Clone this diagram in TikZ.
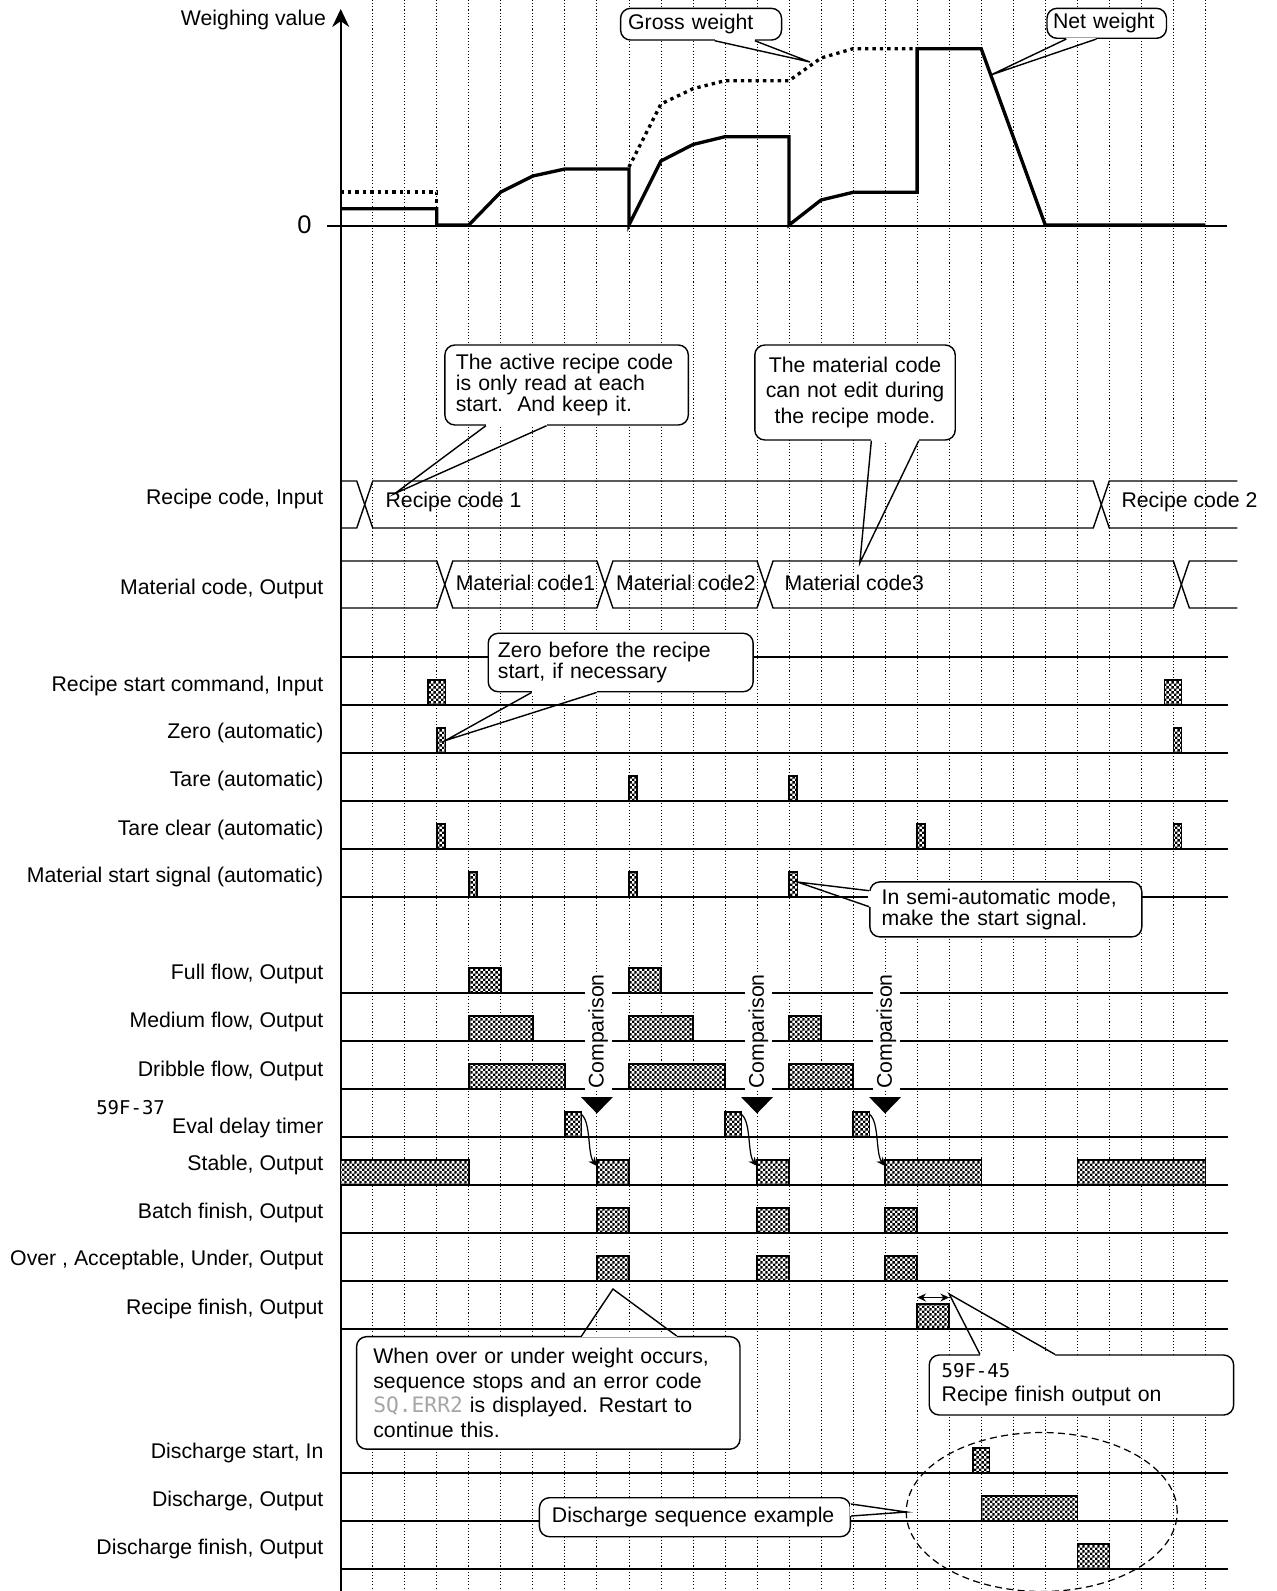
\documentclass[tikz,border=0pt]{standalone}
\usepackage{fontspec}
\setmainfont{Liberation Sans}
\newfontfamily\segfont{DejaVu Sans Mono}
\usetikzlibrary{arrows.meta,calc,fit,patterns,shapes.geometric}

% fine checker fill for the pulses
\pgfdeclarepatternformonly{fineck}{\pgfpointorigin}{\pgfqpoint{3pt}{3pt}}{\pgfqpoint{3pt}{3pt}}{%
  \pgfpathrectangle{\pgfpointorigin}{\pgfqpoint{1.55pt}{1.55pt}}%
  \pgfpathrectangle{\pgfqpoint{1.5pt}{1.5pt}}{\pgfqpoint{1.55pt}{1.55pt}}%
  \pgfusepath{fill}}

% one pulse: name, from, to, base line
\newcommand{\sigpulse}[4]{%
  \path (#2,#4) coordinate (#1-a) (#3,#4-25) coordinate (#1-b);
  \node[pulsebox, fit=(#1-a)(#1-b)] (#1) {};}
% tail of a callout: base point, base point, tip
\newcommand{\calltail}[3]{%
  \draw[white, line width=1.6pt] #1 -- #2;
  \draw[callline] #1 -- #3 -- #2;}

\begin{document}
\begin{tikzpicture}[
        x = 0.6406cm, y = -0.02cm,
        font = \fontsize{12.1}{14}\selectfont,
        line width = 0.8pt,
        > = {Stealth[length=5pt, width=4.5pt]},
        grid/.style = {line width=0.5pt, dash pattern=on 0.6pt off 1.2pt},
        base/.style = {line width=0.8pt},
        pulsebox/.style = {draw, line width=0.8pt, inner sep=0pt, outer sep=0pt,
            preaction={fill=white}, pattern=fineck},
        callbox/.style = {draw, fill=white, rounded corners=0.2cm, line width=0.8pt,
            inner ysep=2pt, align=left, font=\fontsize{12.1}{12}\selectfont},
        callline/.style = {line width=0.8pt, line join=miter},
        lbl/.style = {anchor=east, inner sep=0pt},
        bustext/.style = {anchor=west, inner sep=0pt},
        cmp/.style = {rotate=90, fill=white, inner xsep=1pt, inner ysep=2pt},
        net/.style = {line width=1.9pt, line join=miter},
        gross/.style = {line width=1.9pt, dash pattern=on 1.9pt off 2.3pt}
    ]
    \useasboundingbox (-10.64,0) rectangle (29.23,1591);

    % grid
    \foreach \k in {1,...,27}
        \draw[grid] (\k,0) -- (\k,1591);

    % weighing value
    \draw[line width=1.2pt, -{Stealth[length=0.36cm, width=0.34cm]}] (0,1591) -- (0,9);
    \draw[base] (-0.43,226) -- (27.66,226);
    \node[lbl] (wv) at (-0.44,20) {Weighing value};
    \node[lbl, font=\fontsize{14.5}{16}\selectfont] (zero) at (-0.89,225) {0};
    \draw[net] (0,208.7) -- (3,208.7) -- (3,225) -- (4,225) -- (5,192) -- (6,176) -- (7,169)
        -- (9,169) -- (9,225) -- (10,161) -- (11,144.5) -- (12,136.7) -- (14,136.7) -- (14,225)
        -- (15,200) -- (16,192.3) -- (18,192.3) -- (18,48.7) -- (20,48.7) -- (22,225) -- (27,225);
    \draw[gross] (0,192) -- (3,192) -- (3,203);
    \draw[gross] (9,167) -- (10,104) -- (11,88.7) -- (12,80.7) -- (14,80.7) -- (15,58)
        -- (16,48.7) -- (18,48.7);

    % code buses
    \draw[base] (0,481) -- (0.5,481) -- (1,528) -- (23.5,528) -- (24,481) -- (28,481);
    \draw[base] (0,528) -- (0.5,528) -- (1,481) -- (23.5,481) -- (24,528) -- (28,528);
    \draw[base] (0,561) -- (3,561) -- (3.5,608) -- (8,608) -- (8.5,561) -- (13,561)
        -- (13.5,608) -- (26,608) -- (26.5,561) -- (28,561);
    \draw[base] (0,608) -- (3,608) -- (3.5,561) -- (8,561) -- (8.5,608) -- (13,608)
        -- (13.5,561) -- (26,561) -- (26.5,608) -- (28,608);
    \node[bustext] (rc1) at (1.38,502) {Recipe code 1};
    \node[bustext] (rc2) at (24.36,502) {Recipe code 2};
    \node[bustext] (mc1) at (3.57,583) {Material code1};
    \node[bustext] (mc2) at (8.58,583) {Material code2};
    \node[bustext] (mc3) at (13.84,583) {Material code3};

    % signal base lines and labels
    \foreach \yy in {657,705,753,801,849,897,993,1041,1089,1137,1185,1233,1281,1329,1473,1521,1569}
        \draw[base] (0,\yy) -- (27.7,\yy);
    \foreach \yy/\txt [count=\i] in {499/{Recipe code, Input}, 589/{Material code, Output},
            686/{Recipe start command, Input}, 733/{Zero (automatic)}, 781/{Tare (automatic)},
            830/{Tare clear (automatic)}, 877/{Material start signal (automatic)},
            974/{Full flow, Output}, 1022/{Medium flow, Output}, 1071/{Dribble flow, Output},
            1128/{Eval delay timer}, 1165/{Stable, Output}, 1213/{Batch finish, Output},
            1260/{Over , Acceptable, Under, Output}, 1309/{Recipe finish, Output},
            1453/{Discharge start, In}, 1501/{Discharge, Output}, 1549/{Discharge finish, Output}}
        \node[lbl] (lab\i) at (-0.52,\yy) {\txt};
    \node[lbl, font=\segfont\fontsize{10.8}{12}\selectfont] (p37) at (-5.47,1108) {59F-37};

    % pulses
    \sigpulse{rs1}{2.73}{3.27}{705} \sigpulse{rs2}{25.73}{26.25}{705}
    \sigpulse{zr1}{3}{3.27}{753} \sigpulse{zr2}{26}{26.25}{753}
    \sigpulse{ta1}{9}{9.25}{801} \sigpulse{ta2}{14}{14.25}{801}
    \sigpulse{tc1}{3}{3.25}{849} \sigpulse{tc2}{18}{18.24}{849} \sigpulse{tc3}{26}{26.25}{849}
    \sigpulse{ms1}{4}{4.25}{897} \sigpulse{ms2}{9}{9.25}{897} \sigpulse{ms3}{14}{14.26}{897}
    \sigpulse{ff1}{4}{5}{993} \sigpulse{ff2}{9}{10}{993}
    \sigpulse{mf1}{4}{6}{1041} \sigpulse{mf2}{9}{11}{1041} \sigpulse{mf3}{14}{15}{1041}
    \sigpulse{df1}{4}{7}{1089} \sigpulse{df2}{9}{12}{1089} \sigpulse{df3}{14}{16}{1089}
    \sigpulse{ev1}{7}{7.52}{1137} \sigpulse{ev2}{12}{12.52}{1137} \sigpulse{ev3}{16}{16.52}{1137}
    \sigpulse{st1}{0}{4}{1185} \sigpulse{st2}{8}{9}{1185} \sigpulse{st3}{13}{14}{1185}
    \sigpulse{st4}{17}{20}{1185} \sigpulse{st5}{23}{27}{1185}
    \sigpulse{bf1}{8}{9}{1233} \sigpulse{bf2}{13}{14}{1233} \sigpulse{bf3}{17}{18}{1233}
    \sigpulse{ou1}{8}{9}{1281} \sigpulse{ou2}{13}{14}{1281} \sigpulse{ou3}{17}{18}{1281}
    \sigpulse{rfin}{18}{19}{1329}
    \sigpulse{ds1}{19.75}{20.25}{1473}
    \sigpulse{dc1}{20}{23}{1521}
    \sigpulse{dfin}{23}{24}{1569}

    % comparison points
    \foreach \k [count=\n] in {8,13,17} {
        \node[cmp] (cmp\n) at (\k+0.04,1031.5) {Comparison};
        \fill (\k-0.5,1097) -- (\k+0.5,1097) -- (\k,1113.5) -- cycle;
    }
    \foreach \a/\b in {ev1/st2, ev2/st3, ev3/st4}
        \draw[->, line width=0.7pt] ([yshift=-0.05cm]\a.north east) .. controls +(0.3,8) and +(-0.3,-12) .. ([yshift=-0.12cm]\b.north west);
    \draw[<->, line width=0.7pt] ([yshift=0.13cm]rfin.north west) -- ([yshift=0.13cm]rfin.north east);

    \node[draw, ellipse, line width=0.7pt, dash pattern=on 4pt off 2.5pt, minimum width=5.42cm,
        minimum height=3.18cm, inner sep=0pt, outer sep=0pt] (dsq) at (21.89,1512) {};

    % callouts
    \node[callbox, minimum width=3.22cm, minimum height=0.634cm, inner xsep=0.152cm,
        text width=2.916cm] (gw) at (11.252,24.2) {Gross weight};
    \coordinate (gtip) at (14.65,62);
    \calltail{($(gw.south)+(0.43,0)$)}{($(gw.south)+(1.68,0)$)}{(gtip)}

    \node[callbox, minimum width=2.39cm, minimum height=0.6cm, inner xsep=0.12cm,
        text width=2.15cm] (nw) at (23.92,23.3) {Net weight};
    \coordinate (ntip) at (20.3,75);
    \calltail{($(nw.south)+(-1.26,0)$)}{($(nw.south)+(-0.32,0)$)}{(ntip)}

    \node[callbox, minimum width=4.87cm, minimum height=1.6cm, inner xsep=0.22cm,
        text width=4.43cm] (ar) at (7.053,385) {The active recipe code\\is only read at each\\start.\ \ And keep it.};
    \calltail{($(ar.south)+(-2.52,0)$)}{($(ar.south)+(-0.625,0)$)}{([xshift=0.2cm,yshift=0.17cm]rc1.west)}

    \node[callbox, align=center, minimum width=4.01cm, minimum height=1.9cm, inner xsep=0.155cm,
        text width=3.7cm, font=\fontsize{12.1}{14.5}\selectfont] (mcc) at (16.06,392.5)
        {The material code\\can not edit during\\the recipe mode.};
    \coordinate (mtip) at (16.21,563);
    \calltail{($(mcc.south)+(0.51,0)$)}{($(mcc.south)+(1.99,0)$)}{(mtip)}

    \node[callbox, minimum width=5.3cm, minimum height=1.17cm, inner xsep=0.194cm,
        text width=4.91cm] (zb) at (8.742,662.5) {Zero before the recipe\\start, if necessary};
    \calltail{($(zb.south)+(-2.78,0)$)}{($(zb.south)+(-0.75,0)$)}{(zr1.east)}

    \node[callbox, minimum width=5.44cm, minimum height=1.1cm, inner xsep=0.234cm,
        text width=4.97cm] (sa) at (20.77,909.4) {In semi-automatic mode,\\make the start signal.};
    \calltail{([yshift=0.374cm]sa.west)}{([yshift=0.054cm]sa.west)}{([yshift=-0.2cm]ms3.north east)}

    \node[callbox, minimum width=7.67cm, minimum height=2.25cm, inner xsep=0.332cm,
        text width=7.0cm, font=\fontsize{12.1}{14}\selectfont] (wo) at (6.481,1392.9)
        {When over or under weight occurs,\\sequence stops and an error code\\{\segfont\color{black!35}SQ.ERR2} is displayed. Restart to\\continue this.};
    \calltail{($(wo.north)+(1.04,0)$)}{($(wo.north)+(4.01,0)$)}{([yshift=-0.16cm]ou1.south)}

    \node[callbox, minimum width=6.09cm, minimum height=1.2cm, inner xsep=0.248cm,
        text width=5.59cm, font=\fontsize{12.1}{13.8}\selectfont] (fc) at (23.13,1385)
        {{\segfont\fontsize{10.8}{12}\selectfont 59F-45}\\Recipe finish output on};
    \calltail{($(fc.north)+(-3.17,0)$)}{($(fc.north)+(-0.83,0)$)}{([yshift=0.2cm]rfin.north east)}

    \node[callbox, minimum width=6.22cm, minimum height=0.78cm, inner xsep=0.25cm,
        text width=5.72cm] (dse) at (11.06,1517.2) {Discharge sequence example};
    \calltail{([yshift=0.264cm]dse.east)}{([yshift=0.024cm]dse.east)}{(dsq.west)}
\end{tikzpicture}
\end{document}
